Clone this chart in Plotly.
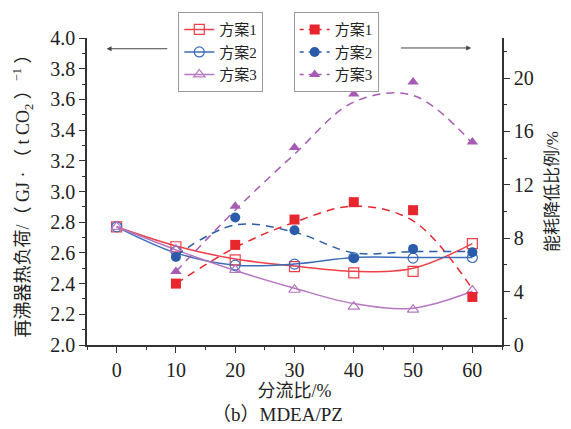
import plotly.graph_objects as go

# ---- data ----
x_pts = [0, 10, 20, 30, 40, 50, 60]
x_dash = [10, 20, 30, 40, 50, 60]

# reboiler heat duty (left axis), GJ/(t CO2)
duty_s1 = [2.77, 2.64, 2.555, 2.51, 2.47, 2.48, 2.66]
duty_s2 = [2.77, 2.61, 2.52, 2.527, 2.57, 2.566, 2.57]
duty_s3 = [2.77, 2.62, 2.49, 2.36, 2.25, 2.23, 2.355]

# smoothed trend curves (solid), read at the same x
duty_c1 = [2.77, 2.645, 2.56, 2.515, 2.48, 2.50, 2.66]
duty_c2 = [2.77, 2.60, 2.52, 2.527, 2.57, 2.57, 2.57]
duty_c3 = [2.77, 2.62, 2.485, 2.37, 2.27, 2.24, 2.35]

# energy reduction ratio (right axis), %
red_s1 = [4.6, 7.5, 9.4, 10.7, 10.1, 3.6]
red_s2 = [6.6, 9.55, 8.6, 6.5, 7.2, 6.95]
red_s3 = [5.5, 10.4, 14.8, 18.8, 19.7, 15.2]

# smoothed trend curves (dashed)
red_c1 = [4.6, 7.3, 9.2, 10.4, 9.3, 4.2]
red_c2 = [6.7, 9.0, 8.45, 6.9, 7.0, 7.0]
red_c3 = [5.5, 10.1, 14.3, 18.2, 18.7, 15.1]

names = ["方案1", "方案2", "方案3"]
colors = ["#E8262E", "#2A5CAA", "#A65CB4"]
light = ["#EE4048", "#3D6CB8", "#B678C2"]
open_sym = ["square-open", "circle-open", "triangle-up-open"]
fill_sym = ["square", "circle", "triangle-up"]

SERIF = "Liberation Serif, 'Times New Roman', Noto Sans CJK SC"

fig = go.Figure()

duty_pts = [duty_s1, duty_s2, duty_s3]
duty_cur = [duty_c1, duty_c2, duty_c3]
red_pts = [red_s1, red_s2, red_s3]
red_cur = [red_c1, red_c2, red_c3]

# solid curves + hollow markers (left axis)
for i in range(3):
    fig.add_trace(go.Scatter(x=x_pts, y=duty_cur[i], mode="lines",
                             line=dict(color=light[i], width=1.5, shape="spline", smoothing=1.0),
                             showlegend=False, yaxis="y", hoverinfo="skip"))
for i in range(3):
    fig.add_trace(go.Scatter(x=x_pts, y=duty_pts[i], mode="markers",
                             marker=dict(symbol=open_sym[i], size=10, color=light[i],
                                         line=dict(width=1.2, color=light[i])),
                             showlegend=False, yaxis="y"))

# dashed curves + filled markers (right axis)
for i in range(3):
    fig.add_trace(go.Scatter(x=x_dash, y=red_cur[i], mode="lines",
                             line=dict(color=colors[i], width=1.5, dash="8px,6px",
                                       shape="spline", smoothing=1.0),
                             showlegend=False, yaxis="y2", hoverinfo="skip"))
for i in range(3):
    fig.add_trace(go.Scatter(x=x_dash, y=red_pts[i], mode="markers",
                             marker=dict(symbol=fill_sym[i], size=10, color=colors[i]),
                             showlegend=False, yaxis="y2"))

# legend entries
for i in range(3):
    fig.add_trace(go.Scatter(x=[None], y=[None], mode="lines+markers", name=names[i],
                             line=dict(color=light[i], width=1.5),
                             marker=dict(symbol=open_sym[i], size=10, color=light[i],
                                         line=dict(width=1.2, color=light[i])),
                             legend="legend"))
for i in range(3):
    fig.add_trace(go.Scatter(x=[None], y=[None], mode="lines+markers", name=names[i],
                             line=dict(color=colors[i], width=1.5, dash="4px,5px"),
                             marker=dict(symbol=fill_sym[i], size=10, color=colors[i]),
                             legend="legend2", yaxis="y2"))

axis_line = "#333333"
fig.update_layout(
    width=571, height=429,
    margin=dict(l=87, r=62, t=34, b=84),
    plot_bgcolor="white", paper_bgcolor="white",
    font=dict(family=SERIF, size=15, color="#222222"),
    xaxis=dict(range=[-5, 65], tickvals=[0, 10, 20, 30, 40, 50, 60],
               ticks="outside", ticklen=6, tickwidth=1.2, tickcolor=axis_line,
               minor=dict(dtick=5, tick0=0, ticks="outside", ticklen=3, tickcolor=axis_line),
               showline=True, linecolor=axis_line, linewidth=1.5, showgrid=False, zeroline=False,
               tickfont=dict(size=20, family=SERIF),
               title=dict(text="分流比/%", font=dict(size=18), standoff=2)),
    yaxis=dict(range=[2.0, 4.0], dtick=0.2, tickformat=".1f",
               ticks="outside", ticklen=6, tickwidth=1.2, tickcolor=axis_line,
               minor=dict(dtick=0.1, ticks="outside", ticklen=3, tickcolor=axis_line),
               showline=True, linecolor=axis_line, linewidth=1.5, showgrid=False, zeroline=False,
               tickfont=dict(size=20, family=SERIF),
               title=dict(text="再沸器热负荷/（ GJ · （ t CO<sub>2</sub> ）<sup>−1</sup> ）",
                          font=dict(size=18), standoff=16)),
    yaxis2=dict(range=[0, 23], dtick=4, overlaying="y", side="right",
                ticks="outside", ticklen=6, tickwidth=1.2, tickcolor=axis_line,
                minor=dict(dtick=2, ticks="outside", ticklen=3, tickcolor=axis_line),
                showline=True, linecolor=axis_line, linewidth=1.5, showgrid=False, zeroline=False,
                tickfont=dict(size=20, family=SERIF),
                title=dict(text="能耗降低比例/%", font=dict(size=17), standoff=13)),
    legend=dict(x=0.22, y=1.084, xanchor="left", yanchor="top",
                bgcolor="white", bordercolor="#999999", borderwidth=1,
                font=dict(size=15), tracegroupgap=0, itemwidth=30),
    legend2=dict(x=0.498, y=1.084, xanchor="left", yanchor="top",
                 bgcolor="white", bordercolor="#999999", borderwidth=1,
                 font=dict(size=15), tracegroupgap=0, itemwidth=30),
    annotations=[
        dict(x=-1.7, y=3.93, ax=8.8, ay=3.93, xref="x", yref="y", axref="x", ayref="y",
             showarrow=True, arrowhead=2, arrowsize=1, arrowwidth=1, arrowcolor="#444", text=""),
        dict(x=59.8, y=3.935, ax=47.7, ay=3.935, xref="x", yref="y", axref="x", ayref="y",
             showarrow=True, arrowhead=2, arrowsize=1, arrowwidth=1, arrowcolor="#444", text=""),
        dict(x=0.46, y=-0.228, xref="paper", yref="paper", yanchor="middle", showarrow=False,
             text="（b）MDEA/PZ", font=dict(size=19, family=SERIF)),
    ],
)

fig.write_html("out.html")
